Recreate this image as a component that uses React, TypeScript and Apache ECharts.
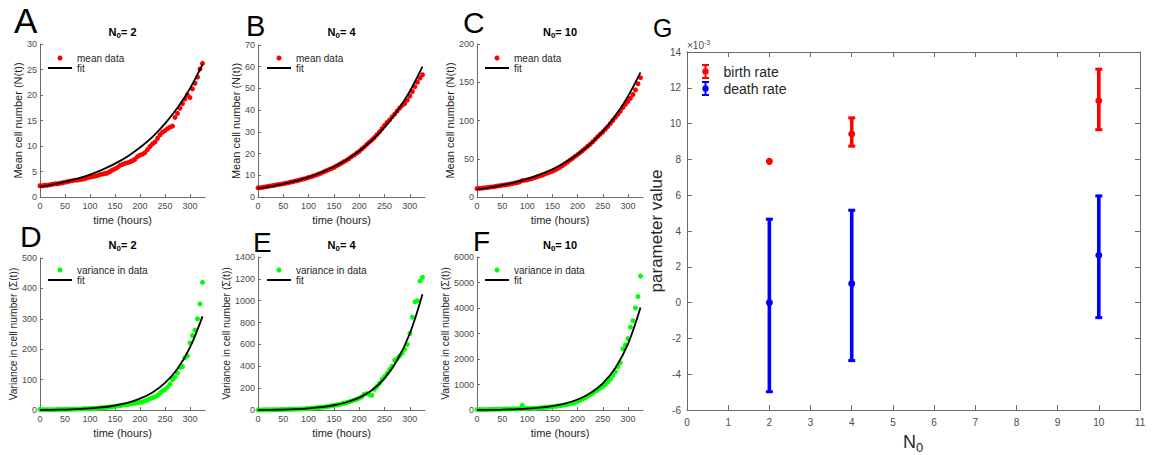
import { useEffect, useRef } from 'react';
import * as echarts from 'echarts';

const FONT = '"Liberation Sans", Arial, Helvetica, sans-serif';

// ---------- data ----------
const TIMES = [
  0, 5, 10, 15, 20, 25, 30, 35, 40, 45,
  50, 55, 60, 65, 70, 75, 80, 85, 90, 95,
  100, 105, 110, 115, 120, 125, 130, 135, 140, 145,
  150, 155, 160, 165, 170, 175, 180, 185, 190, 195,
  200, 205, 210, 215, 220, 225, 230, 235, 240, 245,
  250, 255, 260, 265, 270, 275, 280, 285, 290, 295,
  300, 305, 310, 315, 320, 325,
];

const MEAN_N2 = [
  2.2, 2.2, 2.3, 2.3, 2.4, 2.5, 2.6, 2.6, 2.7, 2.8,
  2.9, 3.0, 3.1, 3.2, 3.3, 3.3, 3.4, 3.5, 3.6, 3.8,
  3.9, 4.0, 4.1, 4.2, 4.4, 4.5, 4.6, 4.7, 5.0, 5.3,
  5.5, 5.8, 6.2, 6.4, 6.6, 6.7, 6.9, 7.1, 7.4, 7.9,
  8.2, 8.4, 8.7, 9.3, 9.9, 10.4, 10.8, 11.5, 12.2, 12.7,
  13.0, 13.4, 13.7, 13.9, 15.6, 16.4, 17.4, 18.3, 19.2, 20.0,
  19.5, 21.2, 22.3, 23.5, 25.1, 26.2,
];

const MEAN_N4 = [
  4.2, 4.3, 4.5, 4.7, 4.9, 5.1, 5.3, 5.5, 5.8, 5.9,
  6.1, 6.3, 6.6, 6.9, 7.1, 7.4, 7.7, 8.0, 8.3, 8.6,
  9.0, 9.3, 9.7, 10.1, 10.6, 11.0, 11.6, 12.1, 12.6, 13.1,
  13.6, 14.3, 14.9, 15.6, 16.3, 16.9, 17.7, 18.6, 19.3, 20.2,
  21.0, 22.1, 23.1, 24.2, 25.3, 26.3, 27.4, 28.7, 30.0, 31.5,
  33.0, 34.3, 35.5, 36.9, 38.2, 39.6, 41.0, 42.2, 43.0, 44.6,
  46.5, 48.6, 50.8, 52.9, 54.8, 56.3,
];

const MEAN_N10 = [
  11.0, 11.2, 11.6, 12.0, 12.3, 12.8, 13.2, 13.6, 14.2, 14.7,
  15.3, 15.8, 16.3, 16.9, 17.5, 18.2, 19.0, 19.8, 21.5, 21.8,
  22.4, 23.3, 24.3, 25.4, 26.5, 27.6, 28.8, 30.0, 31.3, 32.5,
  33.8, 35.2, 37.0, 39.0, 41.2, 43.5, 45.8, 48.2, 50.5, 53.0,
  55.5, 58.0, 60.8, 63.5, 66.3, 69.0, 72.2, 75.5, 79.0, 82.0,
  85.0, 88.5, 92.0, 96.0, 100.0, 104.0, 108.0, 112.0, 117.0, 121.0,
  125.0, 129.0, 134.0, 140.0, 148.0, 156.0,
];

const VAR_N2 = [
  2, 1, 1, 1, 1, 1, 1, 2, 2, 2,
  2, 2, 2, 3, 3, 3, 3, 4, 4, 4,
  5, 5, 6, 6, 7, 7, 8, 9, 10, 11,
  12, 13, 14, 16, 17, 18, 20, 21, 22, 24,
  25, 27, 30, 33, 37, 40, 43, 48, 55, 62,
  67, 75, 85, 100, 108, 122, 140, 143, 172, 178,
  221, 245, 263, 300, 349, 420,
];

const VAR_N4 = [
  1, 1, 1, 2, 2, 2, 3, 3, 4, 4,
  5, 5, 6, 7, 7, 8, 9, 10, 11, 13,
  14, 16, 18, 20, 22, 24, 27, 30, 34, 38,
  42, 46, 50, 56, 62, 68, 75, 82, 90, 98,
  108, 120, 145, 150, 140, 135, 190, 215, 245, 280,
  305, 335, 370, 400, 455, 470, 495, 520, 555, 600,
  700, 850, 990, 1000, 1180, 1215,
];

const VAR_N10 = [
  20, 15, 15, 16, 18, 20, 22, 25, 28, 30,
  32, 35, 38, 40, 42, 45, 48, 50, 180, 55,
  58, 62, 66, 70, 76, 82, 90, 98, 108, 118,
  130, 142, 156, 170, 186, 204, 224, 246, 272, 300,
  335, 380, 430, 480, 540, 600, 660, 740, 790, 860,
  920, 1000, 1100, 1200, 1350, 1500, 1700, 1850, 2400, 2550,
  2800, 3250, 3500, 4000, 4450, 5250,
];

const FIT_TIMES = [0, 25, 50, 75, 100, 125, 150, 175, 200, 225, 250, 275, 300, 325];
const FIT_MEAN_N2 = [2.0, 2.44, 2.97, 3.61, 4.40, 5.37, 6.54, 7.96, 9.70, 11.8, 14.4, 17.5, 21.3, 26.0];
const FIT_MEAN_N4 = [4.0, 4.93, 6.07, 7.47, 9.2, 11.3, 13.9, 17.2, 21.2, 26.1, 32.1, 39.5, 48.7, 60.0];
const FIT_MEAN_N10 = [10, 12.4, 15.4, 19.0, 23.6, 29.3, 36.3, 45.0, 55.8, 69.1, 85.7, 106.2, 131.6, 163];
const FIT_VAR_N2 = [0, 0.53, 1.44, 2.92, 5.28, 9.0, 14.8, 23.7, 37.3, 57.8, 89, 136, 206, 308];
const FIT_VAR_N4 = [0, 1.43, 3.92, 8.1, 15, 26, 43.4, 70.9, 113.5, 180, 290, 455, 700, 1060];
const FIT_VAR_N10 = [0, 4.8, 13.3, 27.8, 51.8, 91, 154, 254, 412, 659, 1046, 1648, 2581, 4023];

const X_TICKS = [0, 50, 100, 150, 200, 250, 300];

// panel G (values in units of 1e-3)
const N0_VALUES = [2, 4, 10];
const BIRTH_RATE = [7.89, 9.42, 11.28];
const BIRTH_LO = [7.89, 8.74, 9.66];
const BIRTH_HI = [7.89, 10.32, 13.04];
const DEATH_RATE = [0.0, 1.06, 2.64];
const DEATH_LO = [-4.98, -3.24, -0.84];
const DEATH_HI = [4.66, 5.16, 5.96];

const ERR_ICON = 'path://M0,0H7V2H4.5V13H7V15H0V13H2.5V2H0Z M0.3,7.5A3.2,3.2 0 1 1 6.7,7.5A3.2,3.2 0 1 1 0.3,7.5Z';
const LINE_ICON = 'path://M0,0H24V2H0Z';

const AXIS_COLOR = '#6a6a6a';
const LABEL_COLOR = '#4a4a4a';
const TEXT_COLOR = '#262626';

const plain = (v: number) => String(v);

function buildOption() {
  const panels = [
    { grid: { left: 40, top: 44, width: 165, height: 153 }, yMax: 30, yInt: 5, values: MEAN_N2, fit: FIT_MEAN_N2,
      dataName: 'mean data', color: '#ff0000', yName: 'Mean cell number (N(t))', yGap: 15, yFs: 11, n0: '2',
      letter: { t: 'A', x: 14, y: 20.5, s: 35 }, legend: { left: 48, top: 53 }, titleY: 31.5 },
    { grid: { left: 258, top: 45, width: 167, height: 152 }, yMax: 70, yInt: 10, values: MEAN_N4, fit: FIT_MEAN_N4,
      dataName: 'mean data', color: '#ff0000', yName: 'Mean cell number (N(t))', yGap: 15, yFs: 11, n0: '4',
      letter: { t: 'B', x: 246, y: 25.5, s: 29 }, legend: { left: 267, top: 53 }, titleY: 31.5 },
    { grid: { left: 477, top: 44, width: 166, height: 153 }, yMax: 200, yInt: 50, values: MEAN_N10, fit: FIT_MEAN_N10,
      dataName: 'mean data', color: '#ff0000', yName: 'Mean cell number (N(t))', yGap: 19, yFs: 11, n0: '10',
      letter: { t: 'C', x: 463, y: 22.5, s: 30 }, legend: { left: 485, top: 53 }, titleY: 31.5 },
    { grid: { left: 40, top: 258, width: 165, height: 152 }, yMax: 500, yInt: 100, values: VAR_N2, fit: FIT_VAR_N2,
      dataName: 'variance in data', color: '#00ff00', yName: 'Variance in cell number (Σ(t))', yGap: 18, yFs: 10.3, n0: '2',
      letter: { t: 'D', x: 20, y: 236, s: 30 }, legend: { left: 48, top: 265 }, titleY: 245 },
    { grid: { left: 258, top: 257, width: 167, height: 153 }, yMax: 1400, yInt: 200, values: VAR_N4, fit: FIT_VAR_N4,
      dataName: 'variance in data', color: '#00ff00', yName: 'Variance in cell number (Σ(t))', yGap: 23, yFs: 10.3, n0: '4',
      letter: { t: 'E', x: 253, y: 242, s: 28 }, legend: { left: 267, top: 265 }, titleY: 245 },
    { grid: { left: 477, top: 257, width: 166, height: 153 }, yMax: 6000, yInt: 1000, values: VAR_N10, fit: FIT_VAR_N10,
      dataName: 'variance in data', color: '#00ff00', yName: 'Variance in cell number (Σ(t))', yGap: 24, yFs: 10.3, n0: '10',
      letter: { t: 'F', x: 473, y: 241, s: 28 }, legend: { left: 485, top: 265 }, titleY: 245 },
  ];

  const grids: any[] = [];
  const xAxes: any[] = [];
  const yAxes: any[] = [];
  const series: any[] = [];
  const legends: any[] = [];
  const graphics: any[] = [];

  const smallAxis = {
    axisLine: { show: true, onZero: false, lineStyle: { color: AXIS_COLOR, width: 1 } },
    axisTick: { show: true, inside: true, length: 3, lineStyle: { color: AXIS_COLOR } },
    splitLine: { show: false },
  };

  panels.forEach((p, i) => {
    grids.push({ ...p.grid, outerBoundsMode: 'none', containLabel: false });
    xAxes.push({
      ...smallAxis,
      gridIndex: i, type: 'value', min: 0, max: 330, interval: 50,
      axisTick: { ...smallAxis.axisTick, customValues: X_TICKS },
      axisLabel: { color: LABEL_COLOR, fontSize: 9, fontFamily: FONT, margin: 4, customValues: X_TICKS, formatter: plain },
      name: 'time (hours)', nameLocation: 'middle', nameGap: 17,
      nameTextStyle: { color: TEXT_COLOR, fontSize: 11, fontFamily: FONT },
    });
    yAxes.push({
      ...smallAxis,
      gridIndex: i, type: 'value', min: 0, max: p.yMax, interval: p.yInt,
      axisLabel: { color: LABEL_COLOR, fontSize: 9, fontFamily: FONT, margin: 3, formatter: plain },
      name: p.yName, nameLocation: 'middle', nameGap: p.yGap,
      nameTextStyle: { color: TEXT_COLOR, fontSize: p.yFs, fontFamily: FONT },
    });
    series.push({
      name: p.dataName, type: 'scatter', xAxisIndex: i, yAxisIndex: i,
      data: TIMES.map((t, j) => [t, p.values[j]]),
      symbol: 'circle', symbolSize: 5, itemStyle: { color: p.color, opacity: 1 }, z: 2,
    });
    series.push({
      name: 'fit', type: 'line', xAxisIndex: i, yAxisIndex: i,
      data: FIT_TIMES.map((t, j) => [t, p.fit[j]]),
      symbol: 'none', showSymbol: false, smooth: 0.35,
      lineStyle: { color: '#000', width: 1.8 }, itemStyle: { color: '#000' }, z: 3,
    });
    legends.push({
      left: p.legend.left, top: p.legend.top, orient: 'vertical', padding: 0,
      itemWidth: 24, itemHeight: 5, itemGap: 0,
      data: [
        { name: p.dataName, icon: 'circle' },
        { name: 'fit', icon: LINE_ICON, itemStyle: { color: '#000' } },
      ],
      textStyle: { color: TEXT_COLOR, fontSize: 10, fontFamily: FONT },
      selectedMode: false,
    });
    graphics.push({
      type: 'text', x: p.letter.x, y: p.letter.y,
      style: { text: p.letter.t, fontSize: p.letter.s, fontFamily: FONT, fill: '#000', align: 'left', verticalAlign: 'middle' },
    });
    graphics.push({
      type: 'text', x: p.grid.left + p.grid.width / 2, y: p.titleY,
      style: {
        text: `{n|N}{s|0}{n|= ${p.n0}}`, align: 'center', verticalAlign: 'middle',
        rich: {
          n: { fontSize: 11, fontWeight: 'bold', fontFamily: FONT, fill: '#000' },
          s: { fontSize: 8, fontWeight: 'bold', fontFamily: FONT, fill: '#000', padding: [7, 0, 0, 0] },
        },
      },
    });
  });

  // ---------- panel G ----------
  const gi = panels.length;
  grids.push({ left: 687, top: 52, width: 453, height: 358, outerBoundsMode: 'none', containLabel: false });
  const bigAxis = {
    axisLine: { show: true, onZero: false, lineStyle: { color: AXIS_COLOR, width: 1 } },
    axisTick: { show: true, inside: true, length: 5, lineStyle: { color: AXIS_COLOR } },
    splitLine: { show: false },
  };
  xAxes.push({
    ...bigAxis, gridIndex: gi, type: 'value', min: 0, max: 11, interval: 1, position: 'bottom',
    axisLabel: { color: LABEL_COLOR, fontSize: 10, fontFamily: FONT, margin: 7 },
  });
  xAxes.push({
    ...bigAxis, gridIndex: gi, type: 'value', min: 0, max: 11, interval: 1, position: 'top',
    axisLabel: { show: false },
  });
  yAxes.push({
    ...bigAxis, gridIndex: gi, type: 'value', min: -6, max: 14, interval: 2, position: 'left',
    axisLabel: { color: LABEL_COLOR, fontSize: 10, fontFamily: FONT, margin: 6 },
    name: 'parameter value', nameLocation: 'middle', nameGap: 22,
    nameTextStyle: { color: TEXT_COLOR, fontSize: 17, fontFamily: FONT },
  });
  yAxes.push({
    ...bigAxis, gridIndex: gi, type: 'value', min: -6, max: 14, interval: 2, position: 'right',
    axisLabel: { show: false },
  });

  const renderErrorBar = (_params: any, api: any) => {
    const x = api.value(0);
    const m = api.value(1);
    const lo = api.value(2);
    const hi = api.value(3);
    const pm = api.coord([x, m]);
    const pl = api.coord([x, lo]);
    const ph = api.coord([x, hi]);
    const color = api.visual('color');
    const half = 3.5;
    const children: any[] = [];
    if (hi - lo > 0.01) {
      children.push({ type: 'line', shape: { x1: pl[0], y1: pl[1], x2: ph[0], y2: ph[1] }, style: { stroke: color, lineWidth: 3.6 } });
      children.push({ type: 'line', shape: { x1: pl[0] - half, y1: pl[1], x2: pl[0] + half, y2: pl[1] }, style: { stroke: color, lineWidth: 3 } });
      children.push({ type: 'line', shape: { x1: ph[0] - half, y1: ph[1], x2: ph[0] + half, y2: ph[1] }, style: { stroke: color, lineWidth: 3 } });
    }
    children.push({ type: 'circle', shape: { cx: pm[0], cy: pm[1], r: 3.5 }, style: { fill: color } });
    return { type: 'group', children };
  };

  series.push({
    name: 'birth rate', type: 'custom', xAxisIndex: 6, yAxisIndex: 6,
    data: N0_VALUES.map((n, i) => [n, BIRTH_RATE[i], BIRTH_LO[i], BIRTH_HI[i]]),
    encode: { x: 0, y: [1, 2, 3] },
    itemStyle: { color: '#ff0000' }, renderItem: renderErrorBar,
  });
  series.push({
    name: 'death rate', type: 'custom', xAxisIndex: 6, yAxisIndex: 6,
    data: N0_VALUES.map((n, i) => [n, DEATH_RATE[i], DEATH_LO[i], DEATH_HI[i]]),
    encode: { x: 0, y: [1, 2, 3] },
    itemStyle: { color: '#0000ff' }, renderItem: renderErrorBar,
  });
  legends.push({
    left: 702, top: 64, orient: 'vertical', padding: 0,
    itemWidth: 26, itemHeight: 15, itemGap: 2,
    data: [
      { name: 'birth rate', icon: ERR_ICON, itemStyle: { color: '#ff0000' } },
      { name: 'death rate', icon: ERR_ICON, itemStyle: { color: '#0000ff' } },
    ],
    textStyle: { color: TEXT_COLOR, fontSize: 14, fontFamily: FONT },
    selectedMode: false,
  });
  graphics.push({
    type: 'text', x: 653, y: 27.5,
    style: { text: 'G', fontSize: 25, fontFamily: FONT, fill: '#000', align: 'left', verticalAlign: 'middle' },
  });
  graphics.push({
    type: 'text', x: 687, y: 45,
    style: {
      text: '×10{sup|-3}', align: 'left', verticalAlign: 'middle',
      rich: {
        sup: { fontSize: 7, fontFamily: FONT, fill: LABEL_COLOR, padding: [0, 0, 6, 0] },
      },
      fontSize: 10, fontFamily: FONT, fill: LABEL_COLOR,
    },
  });
  graphics.push({
    type: 'text', x: 913, y: 442,
    style: {
      text: '{n|N}{s|0}', align: 'center', verticalAlign: 'middle',
      rich: {
        n: { fontSize: 18, fontFamily: FONT, fill: TEXT_COLOR },
        s: { fontSize: 13, fontFamily: FONT, fill: TEXT_COLOR, padding: [11, 0, 0, 0] },
      },
    },
  });

  return {
    animation: false,
    backgroundColor: '#ffffff',
    textStyle: { fontFamily: FONT },
    grid: grids,
    xAxis: xAxes,
    yAxis: yAxes,
    legend: legends,
    series,
    graphic: graphics,
  };
}

export default function App() {
  const ref = useRef<HTMLDivElement>(null);
  useEffect(() => {
    document.body.style.margin = '0';
    const chart = echarts.init(ref.current as HTMLDivElement, null, { renderer: 'svg' });
    chart.setOption(buildOption() as any);
    return () => chart.dispose();
  }, []);
  return <div ref={ref} style={{ width: 1152, height: 455, background: '#fff' }} />;
}
